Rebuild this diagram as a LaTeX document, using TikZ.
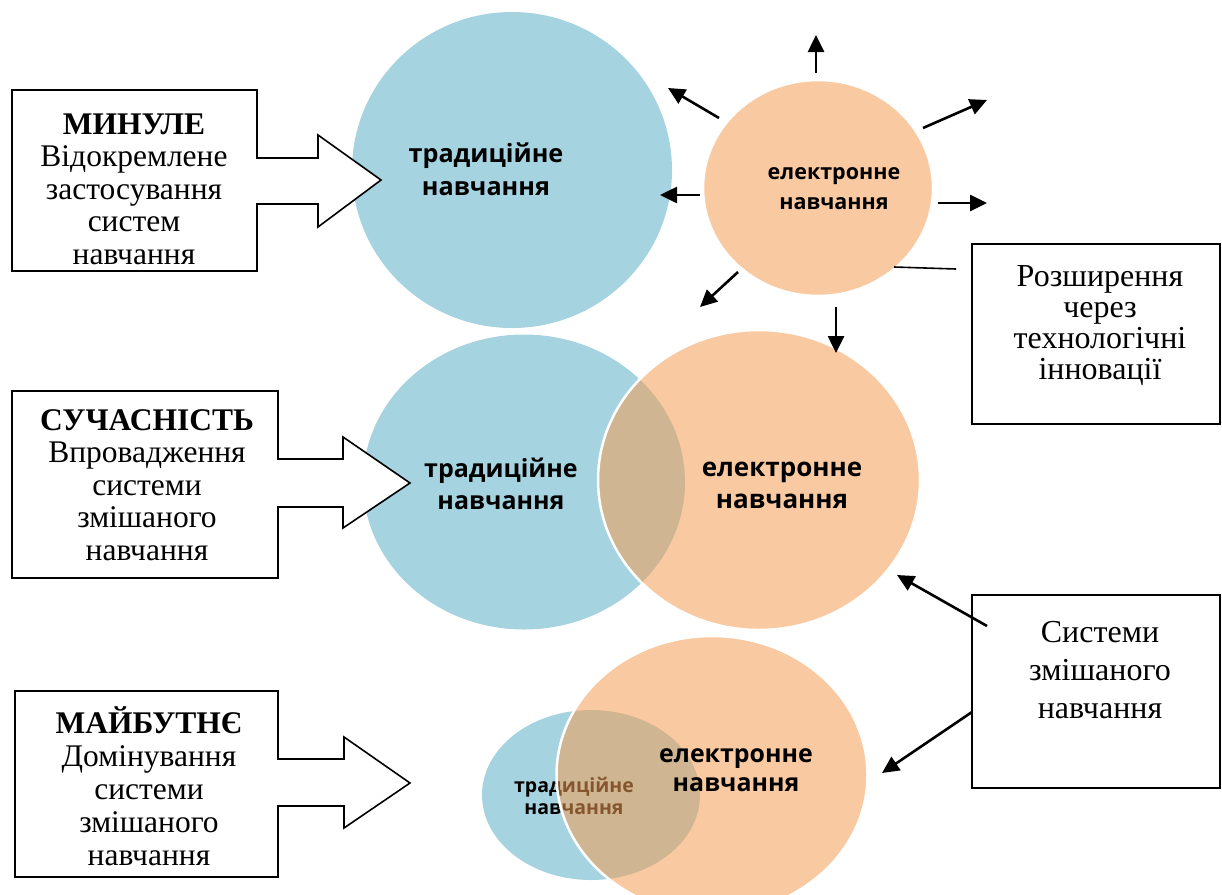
\documentclass[tikz,border=0pt]{standalone}
\usepackage{fontspec}
\setmainfont{Liberation Serif}
\setsansfont{Open Sans}
\usetikzlibrary{arrows.meta,shapes.geometric}
\definecolor{blueC}{RGB}{166,211,224}
\definecolor{orangeC}{RGB}{244,157,84}
\begin{document}
\begin{tikzpicture}[x=1pt,y=-1pt,
  blob/.style={ellipse,inner sep=0pt,outer sep=0pt},
  tradblob/.style={blob,fill=blueC},
  eblob/.style={blob,fill=orangeC,fill opacity=0.55,draw=white,line width=2.5pt},
  lbl/.style={font=\sffamily\bfseries,align=center,text=black},
  callout/.style={draw=black,line width=1.6pt,fill=white,line join=miter},
  boxtext/.style={align=center,font=\fontsize{31.5}{32.5}\selectfont},
  rbox/.style={draw=black,line width=1.6pt},
  arr/.style={line width=2.6pt,-{Triangle[length=17pt,width=16pt]}},
  thinline/.style={line width=1.6pt}
]
\useasboundingbox (0,0) rectangle (1222,894);

% ---------- top row ----------
\node[tradblob,minimum width=320pt,minimum height=316pt] (tA) at (512,170) {};
\node[lbl,font=\sffamily\bfseries\fontsize{25.2}{33}\selectfont] (tAl) at (486,169) {традиційне\\навчання};

\node[eblob,minimum width=230pt,minimum height=216pt] (eA) at (818,188) {};
\node[lbl,font=\sffamily\bfseries\fontsize{21.5}{30}\selectfont] (eAl) at (834,189) {електронне\\навчання};

% ---------- middle row ----------
\node[tradblob,minimum width=322pt,minimum height=295pt] (tB) at (524,482) {};
\node[lbl,font=\sffamily\bfseries\fontsize{25}{32}\selectfont] (tBl) at (501,484) {традиційне\\навчання};
\node[eblob,minimum width=322pt,minimum height=300pt] (eB) at (759,480) {};
\node[lbl,font=\sffamily\bfseries\fontsize{26}{32}\selectfont] (eBl) at (782,485) {електронне\\навчання};

% ---------- bottom row ----------
\node[tradblob,minimum width=218pt,minimum height=170pt] (tC) at (591,795) {};
\node[lbl,font=\sffamily\bfseries\fontsize{19.5}{22}\selectfont] (tCl) at (574,796) {традиційне\\навчання};
\node[eblob,minimum width=311pt,minimum height=278pt] (eC) at (712,775) {};
\node[lbl,font=\sffamily\bfseries\fontsize{24.9}{29}\selectfont] (eCl) at (736,770) {електронне\\навчання};

% ---------- left callouts ----------
\draw[callout] (12,90) -- (257,90) -- (257,158) -- (318,158) -- (318,135) -- (381,180)
  -- (318,227) -- (318,204) -- (257,204) -- (257,271) -- (12,271) -- cycle;
\node[boxtext] (past) at (134,189) {\textbf{МИНУЛЕ}\\Відокремлене\\застосування\\систем\\навчання};

\draw[callout] (12,391) -- (278,391) -- (278,459) -- (343,459) -- (343,437) -- (410,483)
  -- (343,528) -- (343,507) -- (278,507) -- (278,578) -- (12,578) -- cycle;
\node[boxtext] (present) at (147,485) {\textbf{СУЧАСНІСТЬ}\\Впровадження\\системи\\змішаного\\навчання};

\draw[callout] (15,691) -- (278,691) -- (278,759) -- (344,759) -- (344,737) -- (410,783)
  -- (344,828) -- (344,806) -- (278,806) -- (278,877) -- (15,877) -- cycle;
\node[boxtext,font=\fontsize{31.5}{33}\selectfont] (future) at (149,786) {\textbf{МАЙБУТНЄ}\\Домінування\\системи\\змішаного\\навчання};

% radiating arrows
\coordinate (u0) at (816,73);  \coordinate (u1) at (816,35);
\coordinate (ul0) at (719,118); \coordinate (ul1) at (668,88);
\coordinate (ur0) at (923,128); \coordinate (ur1) at (987,100);
\coordinate (l0) at (700,195); \coordinate (l1) at (660,195);
\coordinate (r0) at (938,203); \coordinate (r1) at (987,203);
\coordinate (dl0) at (738,272); \coordinate (dl1) at (700,307);
\coordinate (d0) at (836,307); \coordinate (d1) at (836,353);
\draw[arr] (u0) -- (u1);
\draw[arr] (ul0) -- (ul1);
\draw[arr] (ur0) -- (ur1);
\draw[arr] (l0) -- (l1);
\draw[arr] (r0) -- (r1);
\draw[arr] (dl0) -- (dl1);
\draw[arr] (d0) -- (d1);

% expansion box
\node[rbox,minimum width=248pt,minimum height=180pt,inner sep=0pt] (expbox) at (1096,334) {};
\node[align=center,font=\fontsize{32}{31}\selectfont] (exptext) at (1100,326)
  {Розширення\\через\\технологічні\\інновації};
\coordinate (lnA) at (894,267); \coordinate (lnB) at (956,269);
\draw[thinline] (lnA) -- (lnB);

% blended systems box
\node[rbox,minimum width=248pt,minimum height=193pt,inner sep=0pt] (blendbox) at (1096,691.5) {};
\node[align=center,font=\fontsize{32}{38}\selectfont] (blendtext) at (1100,670)
  {Системи\\змішаного\\навчання};
\coordinate (b1s) at (987,626); \coordinate (b1e) at (897,575);
\coordinate (b2s) at (972,712); \coordinate (b2e) at (882,773);
\draw[arr] (b1s) -- (b1e);
\draw[arr] (b2s) -- (b2e);
\end{tikzpicture}
\end{document}
